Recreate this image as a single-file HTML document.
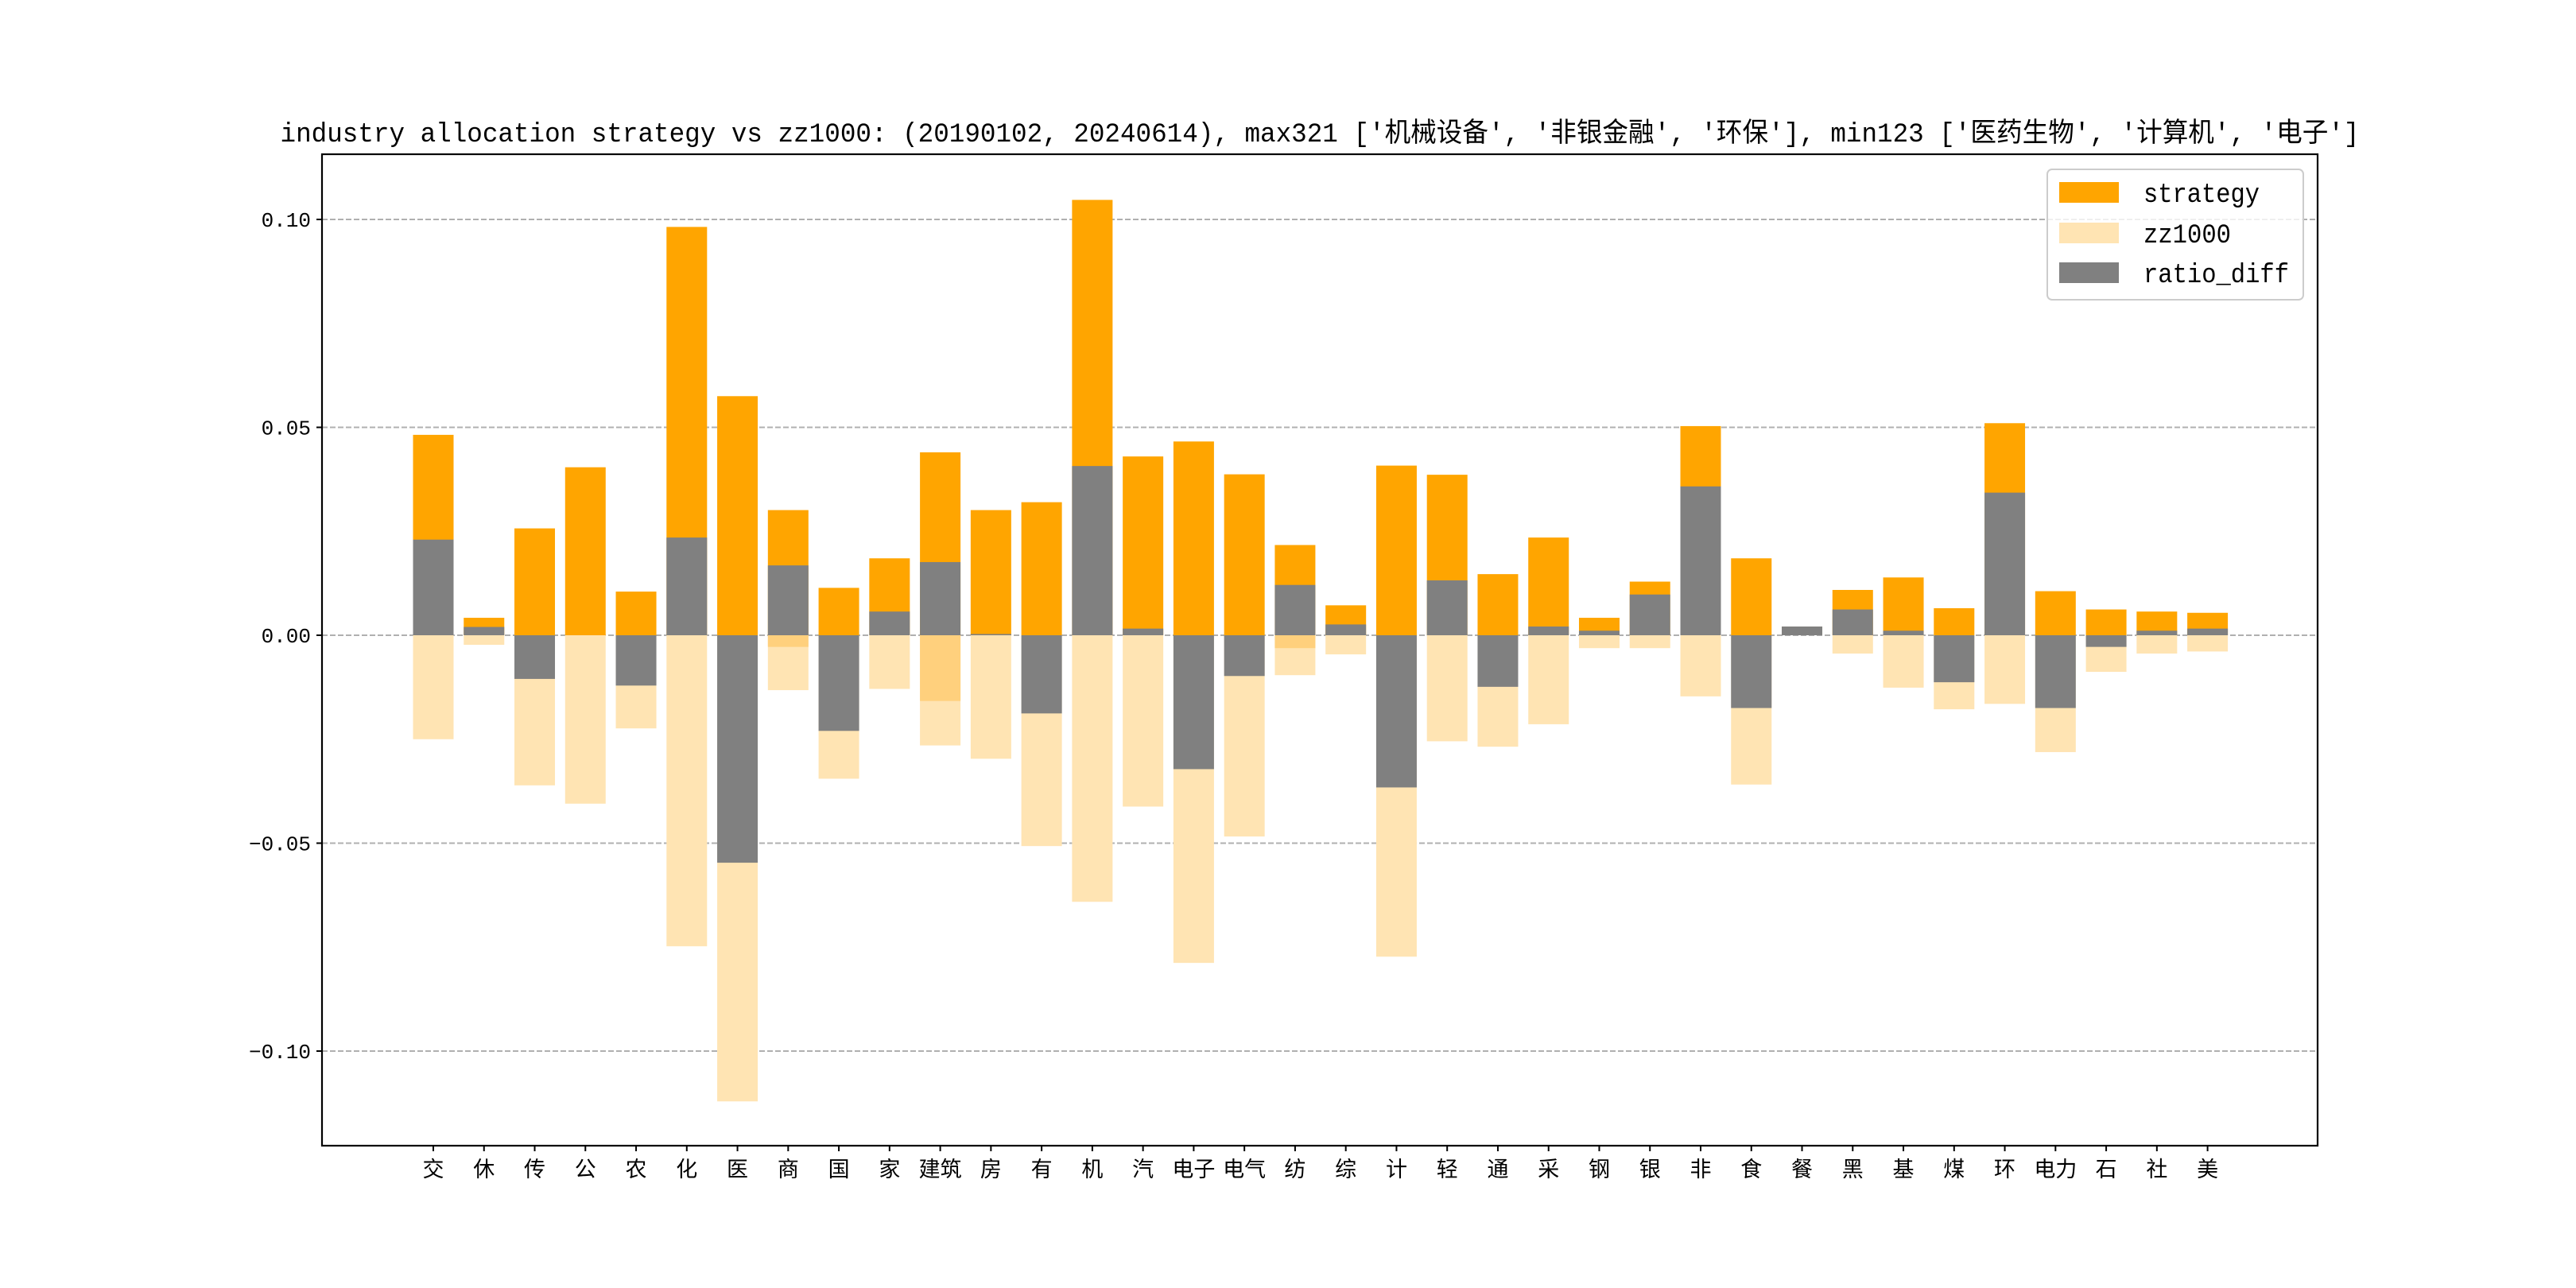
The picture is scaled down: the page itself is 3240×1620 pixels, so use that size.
<!DOCTYPE html>
<html><head><meta charset="utf-8">
<style>html,body{margin:0;padding:0;background:#fff}svg{display:block}</style></head>
<body>
<svg id="chart" xmlns="http://www.w3.org/2000/svg" width="3240" height="1620" viewBox="0 0 3240 1620">
<rect x="0" y="0" width="3240" height="1620" fill="#fff"/>
<text x="1660" y="178" text-anchor="middle" font-size="34" textLength="2615" lengthAdjust="spacingAndGlyphs" font-family="'Liberation Mono','WenQuanYi Zen Hei','Noto Sans CJK SC',monospace">industry allocation strategy vs zz1000: (20190102, 20240614), max321 ['机械设备', '非银金融', '环保'], min123 ['医药生物', '计算机', '电子']</text>
<g id="grid"></g><g id="bars"></g><g id="axes"></g>
<g>
<rect x="2575" y="213" width="322" height="164" rx="6" fill="#fff" fill-opacity="0.8" stroke="#ccc" stroke-width="2"/>
<rect x="2590" y="229" width="75" height="26" fill="#FFA500"/>
<text x="2696" y="254" font-size="34" textLength="146" lengthAdjust="spacingAndGlyphs" font-family="'Liberation Mono',monospace">strategy</text>
<rect x="2590" y="280" width="75" height="26" fill="#FFE4B3"/>
<text x="2696" y="305" font-size="34" textLength="110" lengthAdjust="spacingAndGlyphs" font-family="'Liberation Mono',monospace">zz1000</text>
<rect x="2590" y="330" width="75" height="26" fill="#808080"/>
<text x="2696" y="355" font-size="34" textLength="183" lengthAdjust="spacingAndGlyphs" font-family="'Liberation Mono',monospace">ratio_diff</text>
</g>
</svg>
<script>
const categories = ['交','休','传','公','农','化','医','商','国','家','建筑','房','有','机','汽','电子','电气','纺','综','计','轻','通','采','钢','银','非','食','餐','黑','基','煤','环','电力','石','社','美'];
const strategy = [0.0482,0.0042,0.0257,0.0404,0.0105,0.0982,0.0575,0.0301,0.0114,0.0185,0.0440,0.0301,0.0320,0.1047,0.0430,0.0466,0.0387,0.0217,0.0072,0.0408,0.0386,0.0147,0.0235,0.0042,0.0129,0.0503,0.0185,0.0021,0.0109,0.0139,0.0065,0.0510,0.0106,0.0062,0.0057,0.0054];
const zz1000 = [-0.0250,-0.0023,-0.0361,-0.0405,-0.0224,-0.0748,-0.1121,-0.0132,-0.0345,-0.0129,-0.0265,-0.0297,-0.0507,-0.0641,-0.0412,-0.0788,-0.0484,-0.0096,-0.0046,-0.0773,-0.0255,-0.0268,-0.0214,-0.0031,-0.0031,-0.0147,-0.0359,0,-0.0044,-0.0126,-0.0178,-0.0165,-0.0281,-0.0088,-0.0044,-0.0039];
const ratioDiff = [0.0230,0.0020,-0.0105,0,-0.0121,0.0235,-0.0547,0.0168,-0.0230,0.0057,0.0176,0.0003,-0.0188,0.0407,0.0016,-0.0322,-0.0098,0.0121,0.0026,-0.0366,0.0132,-0.0124,0.0021,0.0011,0.0098,0.0358,-0.0175,0.0021,0.0062,0.0011,-0.0113,0.0343,-0.0175,-0.0028,0.0011,0.0016];
const overlap = [0,0,0,0,0,0,0,-0.0028,0,0,-0.0158,0,0,0,0,0,0,-0.0031,0,0,0,0,0,0,0,0,0,0,0,0,0,0,0,0,0,0];
const yTicks = [0.10,0.05,0.00,-0.05,-0.10];
const yTickLabels = ['0.10','0.05','0.00','\u22120.05','\u22120.10'];

const NS='http://www.w3.org/2000/svg';
const L=405,R=2915,T=194,B=1441;
const x0=545, step=63.76, bw=51;
const yScale=v=>799 - v*5230;
const xScale=i=>x0+i*step;
function mk(tag,parent,attrs){const e=document.createElementNS(NS,tag);for(const k in attrs)e.setAttribute(k,attrs[k]);parent.appendChild(e);return e;}
const grid=document.getElementById('grid'),bars=document.getElementById('bars'),axes=document.getElementById('axes');
yTicks.forEach((v,i)=>{
  const y=yScale(v);
  const g=mk('line',grid,{x1:L,x2:R,y1:y,y2:y,stroke:'#b0b0b0','stroke-width':2,'stroke-dasharray':'7,3'});
  
  
  const t=mk('line',axes,{x1:L-7,x2:L,y1:y,y2:y,stroke:'#000','stroke-width':2});
  
  
  const tx=mk('text',axes,{x:L-14,y:y+9,'text-anchor':'end','font-size':26,'font-family':"'Liberation Mono',monospace"});
  tx.textContent=yTickLabels[i];
  
  
});
function bar(i,v,fill,name){
  const y1=yScale(0),y2=yScale(v);
  const r=mk('rect',bars,{x:xScale(i)-bw/2,y:Math.min(y1,y2),width:bw,height:Math.abs(y2-y1),fill:fill});
  
  
}
categories.forEach((c,i)=>{
  bar(i,strategy[i],'#FFA500','bar-strategy');
  bar(i,zz1000[i],'#FFE4B3','bar-zz1000');
  if(overlap[i]) bar(i,overlap[i],'#FFD07D','bar-overlap');
  bar(i,ratioDiff[i],'#808080','bar-ratio-diff');
  const x=xScale(i);
  const t=mk('line',axes,{x1:x,x2:x,y1:B,y2:B+7,stroke:'#000','stroke-width':2});
  
  
  const tx=mk('text',axes,{x:x,y:B+39,'text-anchor':'middle','font-size':27,'font-family':"'Liberation Sans','WenQuanYi Zen Hei','Noto Sans CJK SC',sans-serif"});
  tx.textContent=c;
  
  
});
const frame=mk('rect',axes,{x:L,y:T,width:R-L,height:B-T,fill:'none',stroke:'#000','stroke-width':2.2});


</script>
</body></html>
